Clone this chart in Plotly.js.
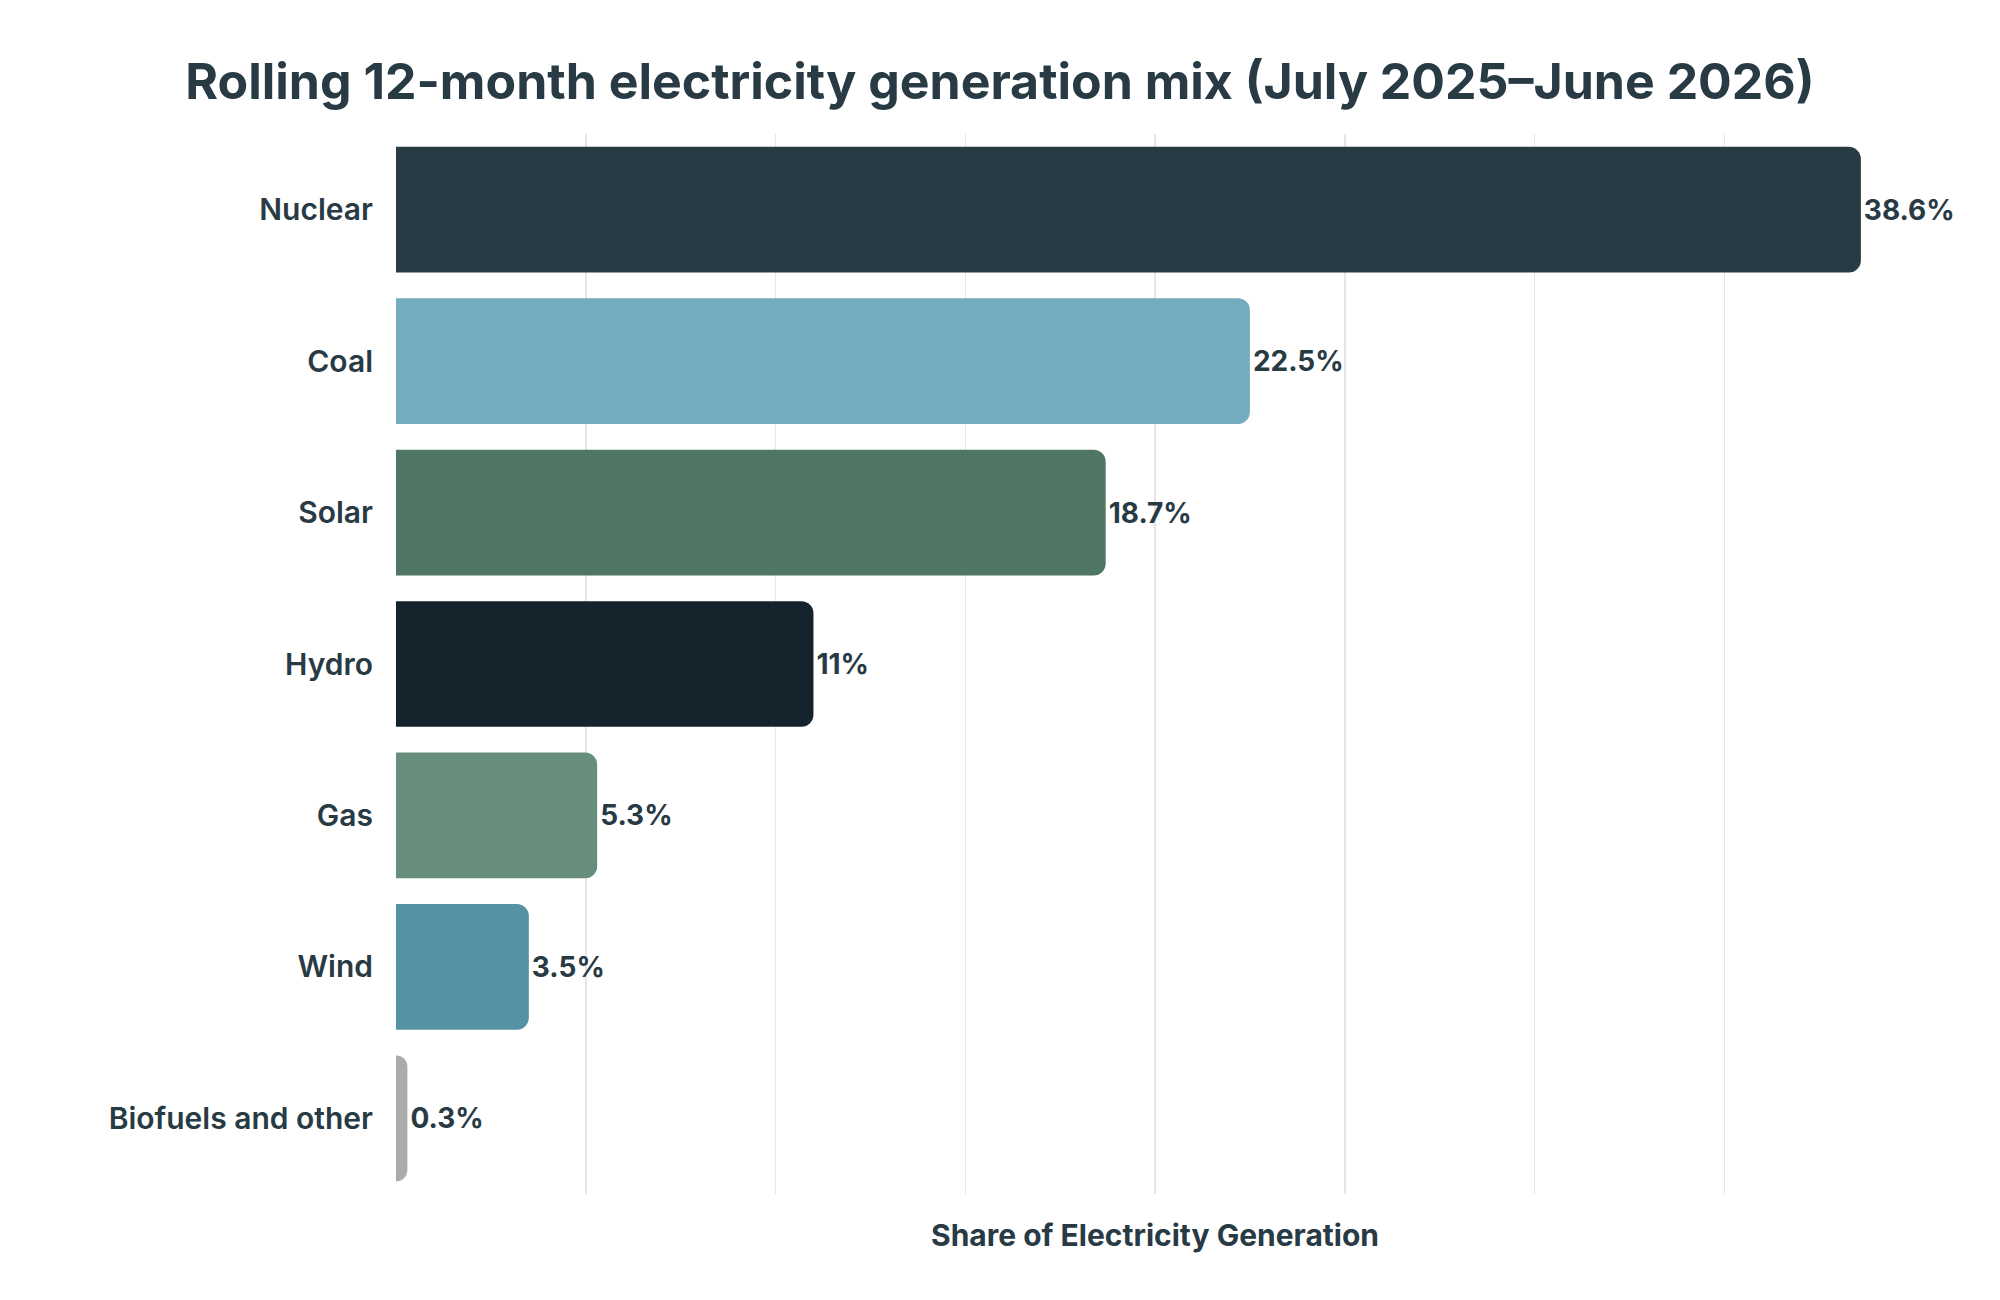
<!DOCTYPE html>
<html>
<head>
<meta charset="utf-8">
<script src="https://cdn.plot.ly/plotly-3.0.1.min.js"></script>
<style>body{margin:0;background:#fff}</style>
</head>
<body>
<div id="chart" style="width:2000px;height:1300px"></div>
<script>
const sources = ["Nuclear", "Coal", "Solar", "Hydro", "Gas", "Wind", "Biofuels and other"];
const shares = [38.6, 22.5, 18.7, 11, 5.3, 3.5, 0.3];
const barColors = ["#283a44", "#72acbe", "#4f7563", "#15232c", "#678d7b", "#5592a4", "#ababab"];
const tickValues = [0, 5, 10, 15, 20, 25, 30, 35, 40];

const textColor = "#283a44";
const fontFamily = "Inter, 'Open Sans', sans-serif";

const data = [{
  type: "bar",
  orientation: "h",
  y: sources,
  x: shares,
  text: shares.map((v) => `<b>${v}%</b>`),
  textposition: "outside",
  textfont: { size: 28, color: textColor, family: fontFamily },
  cliponaxis: false,
  width: 0.83,
  marker: { color: barColors, cornerradius: 12 },
  hoverinfo: "none"
}];

const layout = {
  width: 2000,
  height: 1300,
  margin: { t: 134, b: 106, l: 396, r: 86 },
  paper_bgcolor: "#fff",
  plot_bgcolor: "#fff",
  title: {
    text: "<b>Rolling 12-month electricity generation mix (July 2025–June 2026)</b>",
    font: { size: 50, color: textColor, family: fontFamily },
    x: 0.5, xanchor: "center", y: 0.937, yanchor: "middle"
  },
  xaxis: {
    range: [0, 40],
    tickvals: tickValues,
    showticklabels: false,
    showgrid: true,
    gridcolor: "#e6e6e6",
    gridwidth: 1.5,
    zeroline: false,
    showline: false,
    title: {
      text: "<b>Share of Electricity Generation</b>",
      font: { size: 30, color: textColor, family: fontFamily },
      standoff: 30
    }
  },
  yaxis: {
    autorange: "reversed",
    range: [6.5, -0.5],
    ticks: "",
    ticklabelstandoff: 22,
    tickfont: { size: 30, color: textColor, family: fontFamily, weight: 600 },
    showgrid: false,
    showline: false
  },
  showlegend: false
};

Plotly.newPlot("chart", data, layout, { displayModeBar: false, staticPlot: true });
</script>
</body>
</html>
